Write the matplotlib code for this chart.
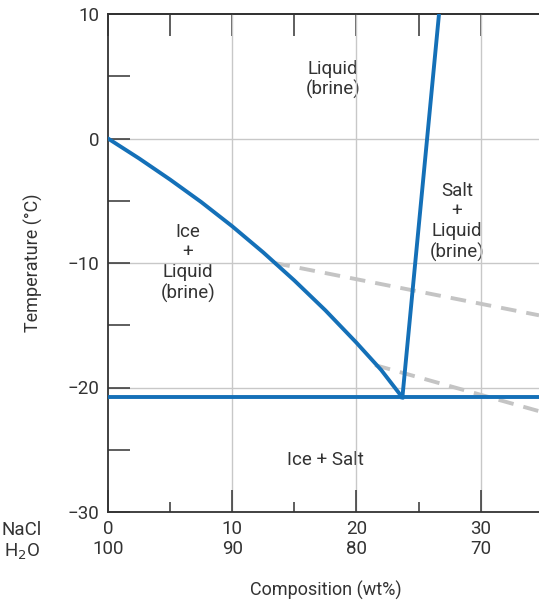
import matplotlib
matplotlib.use("Agg")
import matplotlib.pyplot as plt
from matplotlib.ticker import MultipleLocator

plt.rcParams['font.family'] = ['Roboto', 'DejaVu Sans']

# NaCl-H2O phase diagram data
liquidus_nacl = [0, 2.5, 5, 7.5, 10, 12.5, 15, 17.5, 20, 22, 23.7]
liquidus_temp = [0, -1.6, -3.3, -5.1, -7.05, -9.15, -11.4, -13.8, -16.4,
                 -18.6, -20.8]
salt_line_nacl = [23.7, 26.65]
salt_line_temp = [-20.8, 10]
eutectic_temp = -20.8
metastable1_nacl = [13.4, 34.7]
metastable1_temp = [-10, -14.2]
metastable2_nacl = [21.5, 34.7]
metastable2_temp = [-18.2, -21.9]

nacl_ticks = [0, 10, 20, 30]
h2o_ticks = [100, 90, 80, 70]
temp_ticks = [10, 0, -10, -20, -30]

blue = '#1470b8'
grey_dash = '#c4c4c4'
ink = '#333333'
fs = 13.5

fig = plt.figure(figsize=(5.39, 6.04), dpi=100)
ax = fig.add_axes([108/539, 1 - 512/604, 1 - 108/539, (512 - 14)/604])
ax.set_xlim(0, 34.7)
ax.set_ylim(-30, 10)

# grid
for xv in nacl_ticks[1:]:
    ax.axvline(xv, color='#c8c8c8', lw=1.0, zorder=1)
for yv in temp_ticks[1:-1]:
    ax.axhline(yv, color='#c8c8c8', lw=1.0, zorder=1)

ax.plot(metastable1_nacl, metastable1_temp, color=grey_dash, lw=2.8,
        dashes=(4, 2.6), zorder=2)
ax.plot(metastable2_nacl, metastable2_temp, color=grey_dash, lw=2.8,
        dashes=(4, 2.6), zorder=2)
ax.plot(liquidus_nacl, liquidus_temp, color=blue, lw=2.8, zorder=3,
        solid_capstyle='round', solid_joinstyle='round')
ax.plot(salt_line_nacl, salt_line_temp, color=blue, lw=2.8, zorder=3,
        solid_joinstyle='round')
ax.axhline(eutectic_temp, color=blue, lw=2.8, zorder=3)

# region labels
lab = dict(ha='center', va='center', fontsize=fs, color=ink,
           linespacing=1.15, zorder=0)
ax.text(18.1, 4.74, 'Liquid\n(brine)', **lab)
ax.text(28.1, -6.7, 'Salt\n+\nLiquid\n(brine)', **lab)
ax.text(6.45, -10.0, 'Ice\n+\nLiquid\n(brine)', **lab)
ax.text(17.5, -25.8, 'Ice + Salt', **lab)

# spines and ticks
for s in ['left', 'bottom', 'top']:
    ax.spines[s].set_color(ink)
    ax.spines[s].set_linewidth(1.3)
ax.spines['right'].set_visible(False)

ax.set_yticks(temp_ticks)
ax.set_yticklabels(['10', '0', '\u221210', '\u221220', '\u221230'])
ax.yaxis.set_minor_locator(MultipleLocator(5))
ax.set_xticks(nacl_ticks)
ax.set_xticklabels([f'{a}\n{b}' for a, b in zip(nacl_ticks, h2o_ticks)],
                   linespacing=1.15)
ax.xaxis.set_minor_locator(MultipleLocator(5))

ax.tick_params(axis='y', which='both', direction='in', length=16, width=1.1,
               color=ink, labelsize=fs, labelcolor=ink, pad=6,
               left=True, right=False)
ax.tick_params(axis='x', which='major', direction='in', length=16, width=1.1,
               color=ink, labelsize=fs, labelcolor=ink, pad=6,
               bottom=True, top=False)
ax.tick_params(axis='x', which='minor', direction='in', length=7, width=1.1,
               color=ink, bottom=True, top=False)

# top ticks on a secondary axis
top = ax.secondary_xaxis('top')
top.set_xticks(nacl_ticks)
top.xaxis.set_minor_locator(MultipleLocator(5))
top.tick_params(which='both', direction='in', length=16, width=1.1,
                color=ink, labeltop=False)
top.spines['top'].set_color(ink)
top.spines['top'].set_linewidth(1.3)

# row labels for the composition axis
fig.text(22/539, 1 - 530/604, 'NaCl', ha='center', va='center',
         fontsize=fs, color=ink)
fig.text(22/539, 1 - 552/604, 'H$_2$O', ha='center', va='center',
         fontsize=fs, color=ink)

fig.text(326/539, 1 - 590/604, 'Composition (wt%)', ha='center',
         va='center', fontsize=13, color=ink)
fig.text(33/539, 1 - 263/604, 'Temperature (\u00b0C)', ha='center',
         va='center', rotation=90, fontsize=13, color=ink)

fig.savefig('out.png', dpi=100)
